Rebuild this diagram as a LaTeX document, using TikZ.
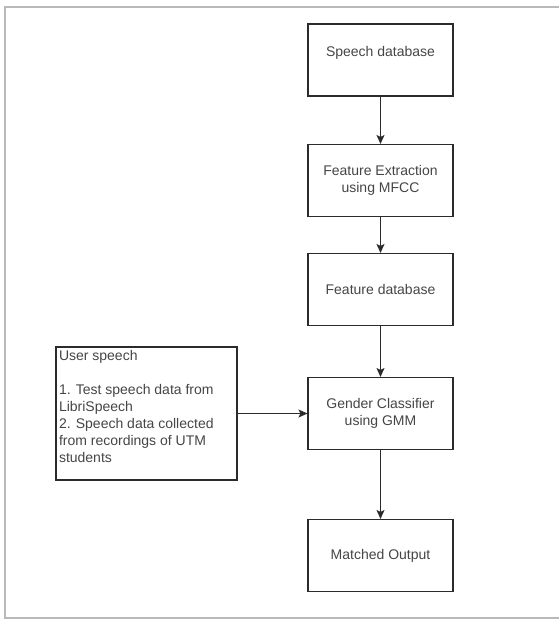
\documentclass[tikz,border=0pt]{standalone}
\usepackage{fontspec}
\setmainfont{Liberation Sans}
\usepackage{xcolor}
\usepackage{tikz}
\usetikzlibrary{arrows.meta, positioning}

\definecolor{edge}{HTML}{2B2B2B}
\definecolor{ink}{HTML}{454545}

\begin{document}
\begin{tikzpicture}[x=1pt, y=-1pt,
    every node/.style={font=\fontsize{14}{17}\selectfont, text=ink},
    blk/.style={rectangle, draw=edge, line width=1.1pt, minimum width=145pt, minimum height=72pt, align=center, inner sep=2pt},
    flow/.style={draw=edge, line width=0.9pt, -{Stealth[length=9pt, width=8pt, inset=2pt]}}]
  \useasboundingbox (0,0) rectangle (559,619);
  % outer frame
  \draw[gray!55, line width=1.6pt] (559,7) -- (5,7) -- (5,618) -- (559,618);

  \node[blk] (SD) at (380.5,60) {Speech database\\\mbox{}};
  \node[blk] (FE) at (380.5,180.5) {Feature Extraction\\using MFCC};
  \node[blk] (FD) at (380.5,289.5) {Feature database};
  \node[blk] (GC) at (380.5,413.5) {Gender Classifier\\using GMM};
  \node[blk] (MO) at (380.5,555.5) {Matched Output};
  \node[rectangle, draw=edge, line width=1.1pt, inner sep=3pt] (US) at (146.5,413.5)
    {\parbox[c][127pt][t]{175pt}{\raggedright User speech\\[17pt]1. Test speech data from LibriSpeech\\2. Speech data collected from recordings of UTM students}};

  \draw[flow] (SD) -- (FE);
  \draw[flow] (FE) -- (FD);
  \draw[flow] (FD) -- (GC);
  \draw[flow] (US) -- (GC);
  \draw[flow] (GC) -- (MO);
  \draw[edge, line width=1.8pt] (MO.south east) -- ++(0,-15);
\end{tikzpicture}
\end{document}
